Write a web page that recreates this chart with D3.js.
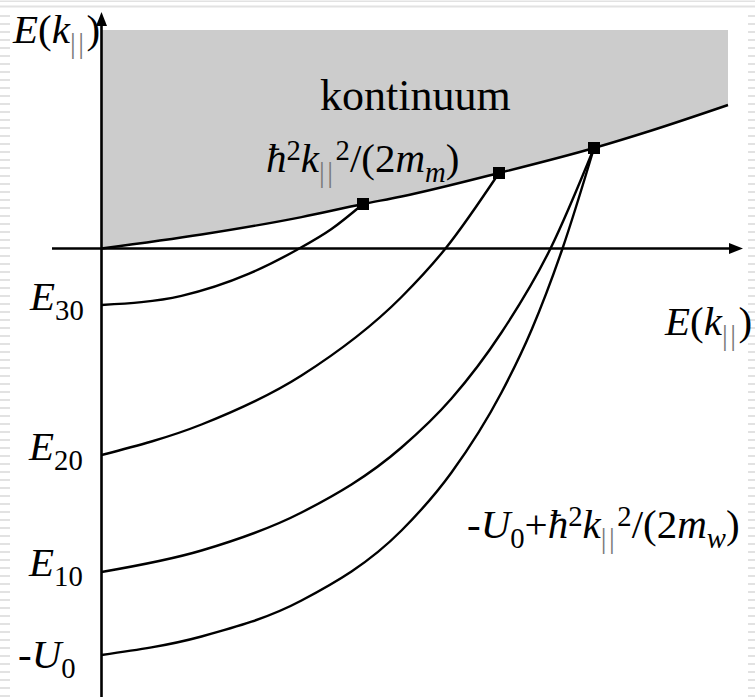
<!DOCTYPE html>
<html>
<head>
<meta charset="utf-8">
<script src="https://cdn.jsdelivr.net/npm/d3@7"></script>
<style>
  html, body { margin: 0; padding: 0; background: #fff; }
  svg { display: block; }
  text { font-family: "Liberation Serif", "Times New Roman", serif; fill: #000; }
</style>
</head>
<body>
<svg id="chart" width="755" height="697"></svg>
<script>
// Subband energies at k = 0 (arbitrary units, 0 = barrier band edge)
const levelNames = ["E30", "E20", "E10", "-U0"];
const levelE = [-0.565, -2.065, -3.235, -4.065];

// Continuum edge  E = ħ²k²/(2m_m)
const continuumK = [0, 1, 2, 2.615, 3, 3.975, 4.925, 5.5, 6.265];
const continuumE = [0, 0.14, 0.314, 0.445, 0.52, 0.755, 1.005, 1.18, 1.435];

// Subband dispersions, each ending on the continuum edge
const band30K = [0, 0.8, 1.47, 1.96, 2.3, 2.615];
const band30E = [-0.565, -0.473, -0.254, -0.01, 0.195, 0.445];
const band20K = [0, 1, 2, 3, 3.44, 3.975];
const band20E = [-2.065, -1.76, -1.27, -0.485, 0.0, 0.755];
const band10K = [0, 1, 2, 3, 3.5, 4, 4.49, 4.925];
const band10E = [-3.235, -3.02, -2.64, -1.99, -1.5, -0.84, 0.0, 1.005];
const bandUK = [0, 1, 2, 3, 3.5, 4, 4.3, 4.61, 4.925];
const bandUE = [-4.065, -3.88, -3.52, -2.82, -2.24, -1.44, -0.815, 0.0, 1.005];

// Points where subbands meet the continuum
const meetK = [2.615, 3.975, 4.925];
const meetE = [0.445, 0.755, 1.005];

const continuumTop = 2.185;

const svg = d3.select("#chart");
const W = 755, H = 697;

const x = d3.scaleLinear().domain([0, 6.5]).range([101.5, 751.5]);
const y = d3.scaleLinear().domain([0, 2]).range([248.5, 48.5]);

// faint slide border decoration
const deco = svg.append("g").attr("fill", "#e2e2e2");
deco.append("rect").attr("x", 0).attr("y", 0.5).attr("width", W).attr("height", 1.5);
deco.append("rect").attr("x", 0).attr("y", 5.5).attr("width", W).attr("height", 2);
deco.selectAll(".l").data(d3.range(15, H, 8)).join("rect")
  .attr("x", 0).attr("y", d => d).attr("width", 10).attr("height", 2);
deco.selectAll(".r").data(d3.range(15, H, 8)).join("rect")
  .attr("x", 748).attr("y", d => d).attr("width", 7).attr("height", 2);

// shaded continuum region
const edge = continuumK.map((k, i) => [k, continuumE[i]]);
const area = d3.area()
  .x(d => x(d[0]))
  .y0(y(continuumTop))
  .y1(d => y(d[1]))
  .curve(d3.curveMonotoneX);
svg.append("path").datum(edge).attr("d", area).attr("fill", "#cccccc");

// axes with arrowheads
const ax = svg.append("g").attr("stroke", "#000").attr("stroke-width", 2.6);
ax.append("line").attr("x1", x(0)).attr("x2", x(0)).attr("y1", H).attr("y2", 20);
ax.append("line").attr("x1", 52).attr("x2", 734).attr("y1", y(0)).attr("y2", y(0));
svg.append("path")
  .attr("d", `M${x(0)},12 L${x(0) - 5.5},26 L${x(0) + 5.5},26 Z`)
  .attr("fill", "#000");
svg.append("path")
  .attr("d", `M743,${y(0)} L729,${y(0) - 5.5} L729,${y(0) + 5.5} Z`)
  .attr("fill", "#000");

// curves
const line = d3.line().x(d => x(d[0])).y(d => y(d[1])).curve(d3.curveMonotoneX);
const bands = [
  [continuumK, continuumE],
  [band30K, band30E],
  [band20K, band20E],
  [band10K, band10E],
  [bandUK, bandUE]
];
svg.append("g").selectAll("path")
  .data(bands.map(([ks, es]) => ks.map((k, i) => [k, es[i]])))
  .join("path")
  .attr("d", line)
  .attr("fill", "none")
  .attr("stroke", "#000")
  .attr("stroke-width", 2.4);

// square markers
svg.append("g").selectAll("rect")
  .data(meetK.map((k, i) => [k, meetE[i]]))
  .join("rect")
  .attr("x", d => x(d[0]) - 6)
  .attr("y", d => y(d[1]) - 6)
  .attr("width", 12).attr("height", 12)
  .attr("fill", "#000");

// rich text helper: parts = [text, mode, italic]; mode n | sub | sup | bar
function rich(px, py, parts, size) {
  const t = svg.append("text").attr("x", px).attr("y", py).attr("font-size", size);
  let shift = 0;
  parts.forEach(([s, mode, it]) => {
    const target = (mode === "sub" || mode === "bar") ? 10 : mode === "sup" ? -12 : 0;
    const ts = t.append("tspan")
      .attr("dy", target - shift)
      .attr("font-size", mode === "n" ? size : size * 0.7)
      .attr("font-style", it ? "italic" : "normal")
      .text(s);
    if (mode === "bar") ts.attr("fill", "#777").attr("letter-spacing", 2.5);
    shift = target;
  });
  return t;
}

const FS = 41;
rich(13, 43, [["E", "n", 1], ["(", "n", 0], ["k", "n", 1], ["||", "bar", 0], [")", "n", 0]], FS);
rich(665, 335, [["E", "n", 1], ["(", "n", 0], ["k", "n", 1], ["||", "bar", 0], [")", "n", 0]], FS);

svg.append("text").attr("x", 320).attr("y", 110).attr("font-size", 44).text("kontinuum");

rich(266, 172, [["ħ", "n", 1], ["2", "sup", 0], ["k", "n", 1], ["||", "bar", 0], ["2", "sup", 0],
  ["/(2", "n", 0], ["m", "n", 1], ["m", "sub", 1], [")", "n", 0]], FS);

rich(467, 538, [["-", "n", 0], ["U", "n", 1], ["0", "sub", 0], ["+", "n", 0], ["ħ", "n", 1], ["2", "sup", 0],
  ["k", "n", 1], ["||", "bar", 0], ["2", "sup", 0], ["/(2", "n", 0], ["m", "n", 1], ["w", "sub", 1], [")", "n", 0]], FS);

// subband labels on the energy axis
const labelX = [30, 29, 29, 18];
const labelDy = [5, 5, 4, 13];
levelNames.forEach((name, i) => {
  const parts = name.startsWith("-")
    ? [["-", "n", 0], [name[1], "n", 1], [name.slice(2), "sub", 0]]
    : [[name[0], "n", 1], [name.slice(1), "sub", 0]];
  rich(labelX[i], y(levelE[i]) + labelDy[i], parts, FS);
});
</script>
</body>
</html>
